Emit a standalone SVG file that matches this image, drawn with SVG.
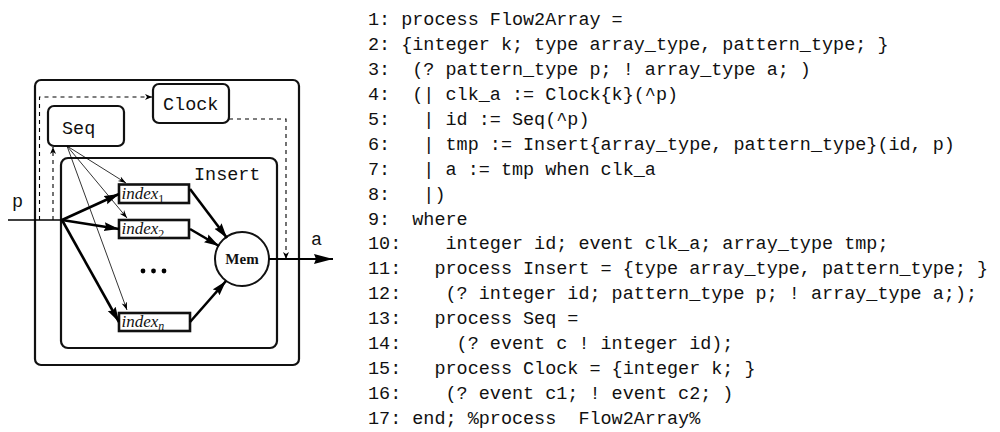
<svg xmlns="http://www.w3.org/2000/svg" width="1000" height="432" viewBox="0 0 1000 432">
<style>
.box{fill:none;stroke:#111;stroke-width:2.2}
.ibox{fill:#fff;stroke:#111;stroke-width:2.6}
.tt{font-family:"Liberation Mono","DejaVu Sans Mono",monospace;font-size:18.47px;fill:#111;white-space:pre}
.it{font-family:"Liberation Serif","Times New Roman",serif;font-style:italic;font-size:17px;fill:#111}
.sub{font-size:12px;font-style:normal}
.subi{font-size:12px}
.mem{font-family:"Liberation Serif","Times New Roman",serif;font-weight:bold;font-size:15px;fill:#111}
.thick{fill:none;stroke:#000;stroke-width:2.6}
.thin{fill:none;stroke:#000;stroke-width:0.8}
.dash{fill:none;stroke:#000;stroke-width:1.1;stroke-dasharray:4 4}
</style>
<defs>
<marker id="mThick" markerUnits="userSpaceOnUse" markerWidth="16" markerHeight="10" refX="15" refY="5" orient="auto"><path d="M0,0.5 L15,5 L0,9.5 L2,5 z" fill="#000"/></marker>
<marker id="mBig" markerUnits="userSpaceOnUse" markerWidth="20" markerHeight="12" refX="19" refY="6" orient="auto"><path d="M0,1 L19,6 L0,11 L2,6 z" fill="#000"/></marker>
<marker id="mThin" markerUnits="userSpaceOnUse" markerWidth="9" markerHeight="8" refX="8" refY="4" orient="auto"><path d="M0,1.2 L8,4 L0,6.8 L2.5,4 z" fill="#000"/></marker>
<marker id="mDash" markerUnits="userSpaceOnUse" markerWidth="8" markerHeight="8" refX="7" refY="4" orient="auto"><path d="M0,1 L7,4 L0,7 L2,4 z" fill="#000"/></marker>
</defs>

<g id="outer"><rect class="box" x="35" y="80" width="264" height="285" rx="6"/></g>
<g id="insert"><rect class="box" x="61" y="158" width="216" height="190" rx="7"/><text class="tt" x="194" y="180">Insert</text></g>
<g id="seq"><rect class="box" x="48" y="106" width="76" height="40" rx="6"/><text class="tt" x="62" y="134">Seq</text></g>
<g id="clock"><rect class="box" x="153" y="84" width="76" height="39" rx="6"/><text class="tt" x="163" y="110">Clock</text></g>
<g id="index1"><rect class="ibox" x="119" y="184.5" width="70" height="18.5"/><text class="it" x="121.5" y="199">index<tspan class="sub" dy="3.5">1</tspan></text></g>
<g id="index2"><rect class="ibox" x="119" y="220" width="70" height="18"/><text class="it" x="121.5" y="234">index<tspan class="sub" dy="3.5">2</tspan></text></g>
<g id="indexn"><rect class="ibox" x="119" y="313" width="71" height="18"/><text class="it" x="121.5" y="327">index<tspan class="subi" dy="3">n</tspan></text></g>
<g id="mem"><circle cx="242" cy="259" r="27" fill="#fff" stroke="#111" stroke-width="2"/><text class="mem" x="242" y="264" text-anchor="middle">Mem</text></g>
<g id="dots" fill="#000"><circle cx="143" cy="271" r="2.4"/><circle cx="153.5" cy="271" r="2.4"/><circle cx="164" cy="271" r="2.4"/></g>
<g id="labels"><text class="tt" x="12" y="207">p</text><text class="tt" x="311" y="245">a</text></g>

<g id="connectors">
<path class="dash" d="M39.5,220 V97 H152" marker-end="url(#mDash)"/>
<path class="dash" d="M53,220 V147" marker-end="url(#mDash)"/>
<path class="dash" d="M229,119 H286 V259" marker-end="url(#mDash)"/>
<path d="M8,220 H62" fill="none" stroke="#000" stroke-width="1.6"/>
<path class="thick" d="M62,220 L119,194" marker-end="url(#mThick)"/>
<path class="thick" d="M62,220 L119,229" marker-end="url(#mThick)"/>
<path class="thick" d="M62,220 L119,322" marker-end="url(#mThick)"/>
<path class="thick" d="M190,189 L227,238" marker-end="url(#mThick)"/>
<path class="thick" d="M190,229 L219,246" marker-end="url(#mThick)"/>
<path class="thick" d="M190,322 L226,281" marker-end="url(#mThick)"/>
<path class="thin" d="M67,146 L126,183" marker-end="url(#mThin)"/>
<path class="thin" d="M67,146 L127,218" marker-end="url(#mThin)"/>
<path class="thin" d="M67,146 L127,310" marker-end="url(#mThin)"/>
<path d="M269,259 H333" fill="none" stroke="#000" stroke-width="2" marker-end="url(#mBig)"/>
</g>

<g id="code" class="tt" xml:space="preserve">
<text class="tt" x="368" y="25">1: process Flow2Array =</text>
<text class="tt" x="368" y="49.9">2: {integer k; type array_type, pattern_type; }</text>
<text class="tt" x="368" y="74.9">3:  (? pattern_type p; ! array_type a; )</text>
<text class="tt" x="368" y="99.8">4:  (| clk_a := Clock{k}(^p)</text>
<text class="tt" x="368" y="124.8">5:   | id := Seq(^p)</text>
<text class="tt" x="368" y="149.7">6:   | tmp := Insert{array_type, pattern_type}(id, p)</text>
<text class="tt" x="368" y="174.6">7:   | a := tmp when clk_a</text>
<text class="tt" x="368" y="199.6">8:   |)</text>
<text class="tt" x="368" y="224.5">9:  where</text>
<text class="tt" x="368" y="249.4">10:    integer id; event clk_a; array_type tmp;</text>
<text class="tt" x="368" y="274.4">11:   process Insert = {type array_type, pattern_type; }</text>
<text class="tt" x="368" y="299.3">12:    (? integer id; pattern_type p; ! array_type a;);</text>
<text class="tt" x="368" y="324.3">13:   process Seq =</text>
<text class="tt" x="368" y="349.2">14:     (? event c ! integer id);</text>
<text class="tt" x="368" y="374.2">15:   process Clock = {integer k; }</text>
<text class="tt" x="368" y="399.1">16:    (? event c1; ! event c2; )</text>
<text class="tt" x="368" y="424">17: end; %process  Flow2Array%</text>
</g>
</svg>
